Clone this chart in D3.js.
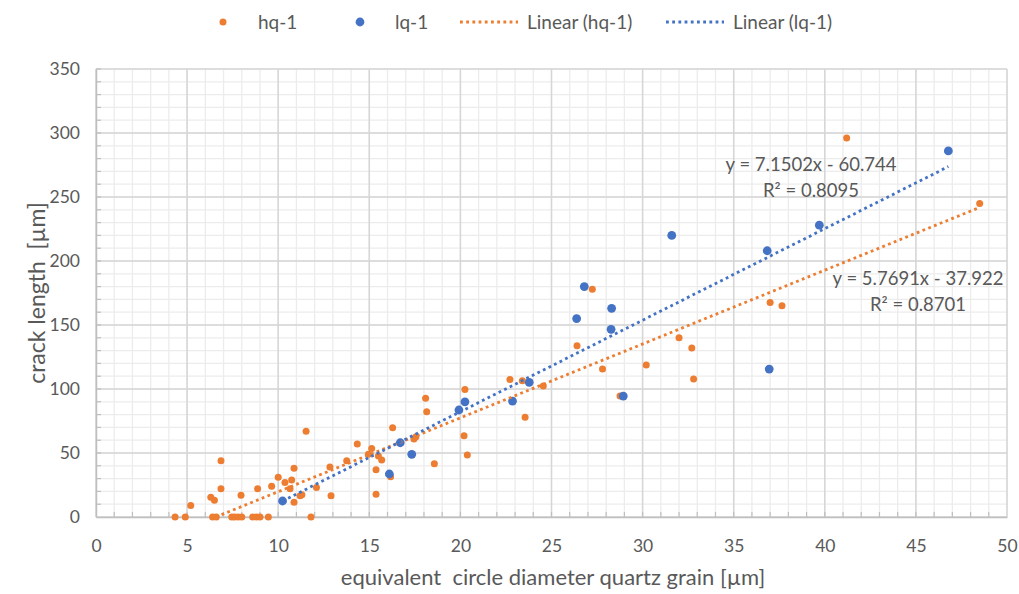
<!DOCTYPE html>
<html>
  <head>
    <meta charset="utf-8">
    <title>Crack length vs grain size</title>
    <style>
      body { margin: 0; background: #fff; }
      svg { display: block; font-family: Lato, "Open Sans", sans-serif; }
      .pre { white-space: pre; }
    </style>
    <script src="https://d3js.org/d3.v7.min.js"></script>
  </head>
  <body>
    <svg id="chart" width="1019" height="594"></svg>
    <script>
      // hq-1 series: [grain diameter, crack length]
      var hqData = [
        [4.34, 0], [4.9, 0], [5.2, 9], [6.3, 15.4], [6.5, 13], [6.4, 0], [6.6, 0],
        [6.86, 44], [6.86, 22], [7.45, 0], [7.6, 0], [7.8, 0], [8.0, 0], [7.96, 17],
        [8.6, 0], [8.8, 0], [9.0, 0], [8.87, 22], [9.46, 0], [9.64, 24], [10.0, 31],
        [10.37, 27], [10.74, 29], [10.65, 22], [10.87, 38], [10.87, 11.5], [11.2, 16.6],
        [11.3, 17.4], [11.53, 67], [11.8, 0], [12.1, 23], [12.84, 39], [12.9, 16.6],
        [13.76, 44], [14.34, 57], [15.13, 53.6], [14.95, 49], [15.5, 47.7], [15.68, 44.5],
        [15.37, 37], [15.37, 17.7], [16.17, 31.5], [16.28, 69.8], [17.45, 61], [17.56, 62.7],
        [18.09, 92.7], [18.15, 82.3], [18.57, 41.6], [20.25, 99.7], [20.2, 63.5], [20.38, 48.4],
        [22.72, 107.5], [23.4, 106.5], [23.55, 78], [24.55, 102.3], [26.4, 133.8], [27.24, 178],
        [27.8, 115.6], [28.76, 94.5], [30.2, 118.8], [32.0, 140], [32.7, 132], [32.8, 107.8],
        [37.0, 167.5], [37.65, 165], [41.2, 296], [48.5, 245]
      ];

      // lq-1 series
      var lqData = [
        [10.24, 12.5], [16.1, 33.6], [16.7, 58], [17.33, 49], [19.92, 83.6], [20.25, 90],
        [22.86, 90.6], [23.78, 105.2], [26.38, 155], [26.8, 180], [28.27, 146.6], [28.3, 163],
        [28.94, 94.5], [31.6, 220], [36.84, 208], [36.95, 115.6], [39.7, 228], [46.78, 286]
      ];

      // trendline fits shown in the chart
      var hqFit = { slope: 5.7691, icpt: -37.922, eq: "y = 5.7691x - 37.922", r2: "R² = 0.8701" };
      var lqFit = { slope: 7.1502, icpt: -60.744, eq: "y = 7.1502x - 60.744", r2: "R² = 0.8095" };

      var xTicks = [0, 5, 10, 15, 20, 25, 30, 35, 40, 45, 50];
      var yTicks = [0, 50, 100, 150, 200, 250, 300, 350];

      var orange = "#ED7D31", blue = "#4472C4", textCol = "#595959";

      var margin = { top: 69, right: 12, bottom: 77, left: 96 };
      var width = 1019 - margin.left - margin.right;
      var height = 594 - margin.top - margin.bottom;

      var svg = d3.select("#chart");
      var g = svg.append("g").attr("transform", "translate(" + margin.left + "," + margin.top + ")");

      var x = d3.scaleLinear().domain([0, 50]).range([0, width]);
      var y = d3.scaleLinear().domain([0, 350]).range([height, 0]);

      // minor grid
      g.append("g").selectAll("line").data(d3.range(0, 51, 1)).enter().append("line")
        .attr("x1", function(d) { return x(d); }).attr("x2", function(d) { return x(d); })
        .attr("y1", 0).attr("y2", height)
        .attr("stroke", "#ececec").attr("stroke-width", 1.3);
      g.append("g").selectAll("line").data(d3.range(0, 351, 10)).enter().append("line")
        .attr("y1", function(d) { return y(d); }).attr("y2", function(d) { return y(d); })
        .attr("x1", 0).attr("x2", width)
        .attr("stroke", "#ececec").attr("stroke-width", 1.3);

      // major grid
      g.append("g").selectAll("line").data(xTicks).enter().append("line")
        .attr("x1", function(d) { return x(d); }).attr("x2", function(d) { return x(d); })
        .attr("y1", 0).attr("y2", height)
        .attr("stroke", "#d6d6d6").attr("stroke-width", 1.5);
      g.append("g").selectAll("line").data(yTicks).enter().append("line")
        .attr("y1", function(d) { return y(d); }).attr("y2", function(d) { return y(d); })
        .attr("x1", 0).attr("x2", width)
        .attr("stroke", "#d6d6d6").attr("stroke-width", 1.5);

      // axes
      var xAxis = d3.axisBottom(x).tickValues(xTicks).tickSize(0).tickPadding(23);
      var gx = g.append("g").attr("transform", "translate(0," + height + ")").call(xAxis);
      gx.select(".domain").attr("stroke", "#bfbfbf").attr("stroke-width", 1.5);
      gx.selectAll("text").attr("font-size", 17.5).attr("fill", textCol);

      var yAxis = d3.axisLeft(y).tickValues(yTicks).tickSize(0).tickPadding(16);
      var gy = g.append("g").call(yAxis);
      gy.select(".domain").attr("stroke", "#bfbfbf").attr("stroke-width", 1.5);
      gy.selectAll("text").attr("font-size", 17.5).attr("fill", textCol);
      svg.selectAll(".tick text").style("font-family", "Lato, 'Open Sans', sans-serif");

      // minor tick marks inside the plot
      g.append("g").selectAll("line").data(d3.range(1, 50, 1)).enter().append("line")
        .attr("x1", function(d) { return x(d); }).attr("x2", function(d) { return x(d); })
        .attr("y1", height).attr("y2", height - 5)
        .attr("stroke", "#bfbfbf").attr("stroke-width", 1.2);
      g.append("g").selectAll("line").data(d3.range(10, 351, 10)).enter().append("line")
        .attr("y1", function(d) { return y(d); }).attr("y2", function(d) { return y(d); })
        .attr("x1", 0).attr("x2", 5)
        .attr("stroke", "#bfbfbf").attr("stroke-width", 1.2);

      // points
      g.append("g").selectAll("circle").data(hqData).enter().append("circle")
        .attr("cx", function(d) { return x(d[0]); })
        .attr("cy", function(d) { return y(d[1]); })
        .attr("r", 3.5).attr("fill", orange);
      g.append("g").selectAll("circle").data(lqData).enter().append("circle")
        .attr("cx", function(d) { return x(d[0]); })
        .attr("cy", function(d) { return y(d[1]); })
        .attr("r", 4.4).attr("fill", blue);

      // trendlines, clipped at y = 0
      function trend(data, fit, color) {
        var xs = data.map(function(d) { return d[0]; });
        var x0 = Math.max(d3.min(xs), -fit.icpt / fit.slope);
        var x1 = d3.max(xs);
        g.append("line")
          .attr("x1", x(x0)).attr("y1", y(fit.slope * x0 + fit.icpt))
          .attr("x2", x(x1)).attr("y2", y(fit.slope * x1 + fit.icpt))
          .attr("stroke", color).attr("stroke-width", 2.8)
          .attr("stroke-dasharray", "2.8,3.4");
      }
      trend(hqData, hqFit, orange);
      trend(lqData, lqFit, blue);

      // equation labels
      function eqLabel(fit, cx, cy) {
        var t = g.append("text").attr("text-anchor", "middle").attr("fill", textCol)
          .attr("font-size", 18.5);
        t.append("tspan").attr("x", cx - margin.left).attr("y", cy - margin.top).text(fit.eq);
        t.append("tspan").attr("x", cx - margin.left).attr("y", cy - margin.top + 26).text(fit.r2);
      }
      eqLabel(lqFit, 811, 171);
      eqLabel(hqFit, 918, 285);

      // axis titles
      svg.append("text").attr("class", "pre").attr("x", 553).attr("y", 585)
        .attr("text-anchor", "middle").attr("font-size", 22).attr("fill", textCol)
        .text("equivalent  circle diameter quartz grain [µm]");
      svg.append("text").attr("class", "pre").attr("transform", "translate(45,293) rotate(-90)")
        .attr("text-anchor", "middle").attr("font-size", 23).attr("fill", textCol)
        .text("crack length  [µm]");

      // legend
      var leg = svg.append("g").attr("font-size", 19).attr("fill", textCol);
      leg.append("circle").attr("cx", 223).attr("cy", 22).attr("r", 3.5).attr("fill", orange);
      leg.append("text").attr("x", 258).attr("y", 29).text("hq-1");
      leg.append("circle").attr("cx", 360).attr("cy", 22).attr("r", 4.4).attr("fill", blue);
      leg.append("text").attr("x", 395).attr("y", 29).text("lq-1");
      leg.append("line").attr("x1", 460).attr("x2", 518).attr("y1", 22).attr("y2", 22)
        .attr("stroke", orange).attr("stroke-width", 2.8).attr("stroke-dasharray", "2.8,3.4");
      leg.append("text").attr("x", 527).attr("y", 29).text("Linear (hq-1)");
      leg.append("line").attr("x1", 666).attr("x2", 724).attr("y1", 22).attr("y2", 22)
        .attr("stroke", blue).attr("stroke-width", 2.8).attr("stroke-dasharray", "2.8,3.4");
      leg.append("text").attr("x", 733).attr("y", 29).text("Linear (lq-1)");
    </script>
  </body>
</html>
